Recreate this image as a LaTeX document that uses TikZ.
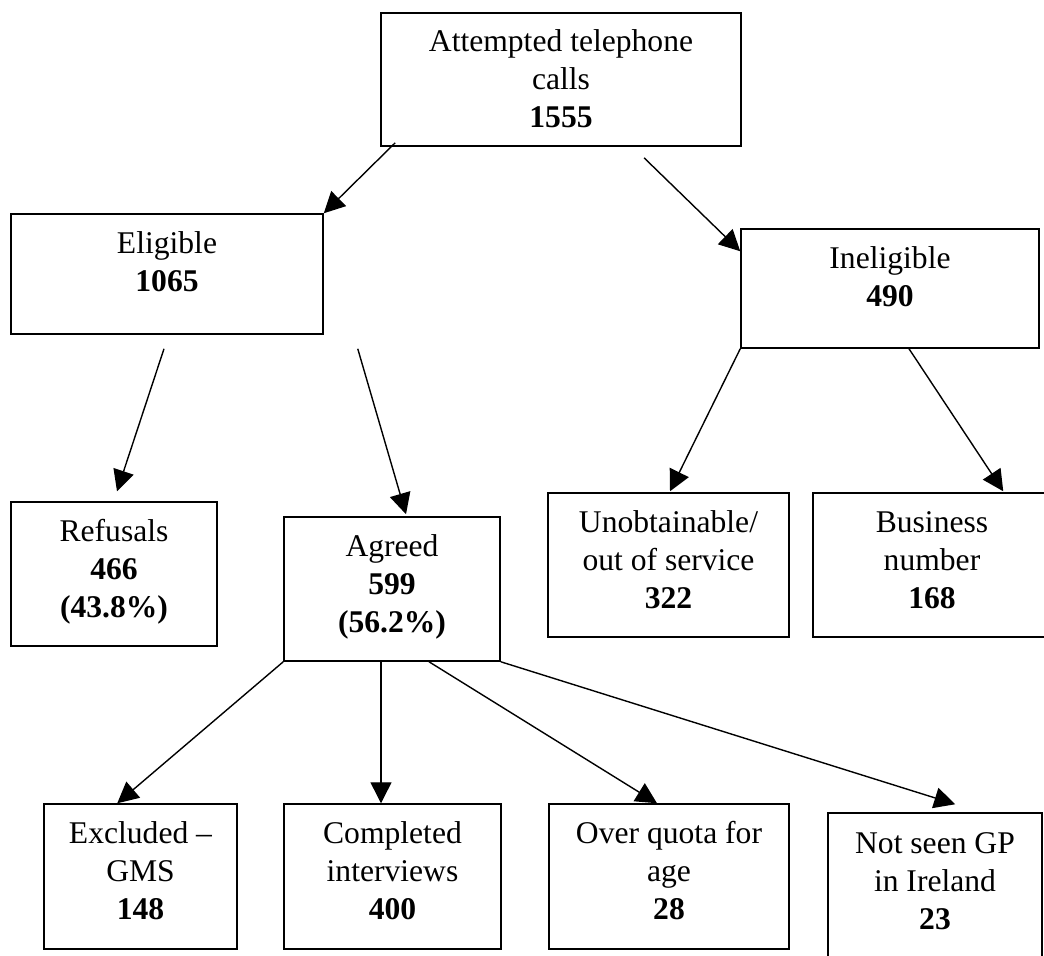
\documentclass[tikz,border=0pt]{standalone}
\usepackage{fontspec}
\setmainfont{Liberation Serif}
\usetikzlibrary{arrows.meta}
\newcommand\boxtext[1]{\begin{tabular}[t]{@{}c@{}}#1\end{tabular}}
\begin{document}
\begin{tikzpicture}[x=0.5pt,y=-0.5pt,
  box/.style={draw, line width=0.75pt, inner sep=0, rectangle},
  txt/.style={anchor=base, inner sep=0, font=\fontsize{15.8}{19}\selectfont},
  arr/.style={-{Triangle[length=10.5pt,width=10.5pt]}, line width=0.7pt}]
\useasboundingbox (0,0) rectangle (1044,955);
% boxes
\node[box, minimum width=180pt, minimum height=66.5pt] (top) at (561,79.5) {};
\node[box, minimum width=156pt, minimum height=60pt] (elig) at (167,274) {};
\node[box, minimum width=149pt, minimum height=59.5pt] (inel) at (890,288.5) {};
\node[box, minimum width=103pt, minimum height=72pt] (ref) at (114,574) {};
\node[box, minimum width=108pt, minimum height=72pt] (agr) at (392,589) {};
\node[box, minimum width=120.5pt, minimum height=72pt] (unob) at (668.5,565) {};
\node[box, minimum width=119pt, minimum height=72pt] (bus) at (932,565) {};
\node[box, minimum width=96.5pt, minimum height=72.5pt] (excl) at (140.5,876.5) {};
\node[box, minimum width=108.5pt, minimum height=72.5pt] (comp) at (392.5,876.5) {};
\node[box, minimum width=120pt, minimum height=72.5pt] (over) at (669,876.5) {};
\node[box, minimum width=107pt, minimum height=81pt] (notgp) at (935,894) {};
% texts
\node[txt] (ttop) at ([yshift=-19.5pt]top.north) {\boxtext{Attempted telephone\\calls\\\textbf{1555}}};
\node[txt] (telig) at ([yshift=-20pt]elig.north) {\boxtext{Eligible\\\textbf{1065}}};
\node[txt] (tinel) at ([yshift=-20pt]inel.north) {\boxtext{Ineligible\\\textbf{490}}};
\node[txt] (tref) at ([yshift=-20pt]ref.north) {\boxtext{Refusals\\\textbf{466}\\\textbf{(43.8\%)}}};
\node[txt] (tagr) at ([yshift=-20pt]agr.north) {\boxtext{Agreed\\\textbf{599}\\\textbf{(56.2\%)}}};
\node[txt] (tunob) at ([yshift=-20pt]unob.north) {\boxtext{Unobtainable/\\out of service\\\textbf{322}}};
\node[txt] (tbus) at ([yshift=-20pt]bus.north) {\boxtext{Business\\number\\\textbf{168}}};
\node[txt] (texcl) at ([yshift=-20pt]excl.north) {\boxtext{Excluded –\\GMS\\\textbf{148}}};
\node[txt] (tcomp) at ([yshift=-20pt]comp.north) {\boxtext{Completed\\interviews\\\textbf{400}}};
\node[txt] (tover) at ([yshift=-20pt]over.north) {\boxtext{Over quota for\\age\\\textbf{28}}};
\node[txt] (tnotgp) at ([yshift=-20.5pt]notgp.north) {\boxtext{Not seen GP\\in Ireland\\\textbf{23}}};
% arrows
\draw[arr] ([shift={(15,-4)}]top.south west) -- (elig.north east);
\draw[arr] ([shift={(83,11)}]top.south) -- ([shift={(0,23)}]inel.north west);
\draw[arr] ([shift={(-3,14)}]elig.south) -- ([shift={(3,-10)}]ref.north);
\draw[arr] ([shift={(34,14)}]elig.south east) -- ([shift={(14,-2)}]agr.north);
\draw[arr] (inel.south west) -- ([shift={(1.5,-1)}]unob.north);
\draw[arr] ([shift={(19,0)}]inel.south) -- ([shift={(191,-1)}]bus.north west);
\draw[arr] (agr.south west) -- ([shift={(74,0)}]excl.north west);
\draw[arr] ([shift={(-11,0)}]agr.south) -- ([shift={(-11.5,0)}]comp.north);
\draw[arr] ([shift={(37,0)}]agr.south) -- ([shift={(-12,0)}]over.north);
\draw[arr] (agr.south east) -- ([shift={(128,-8)}]notgp.north west);
\end{tikzpicture}
\end{document}
